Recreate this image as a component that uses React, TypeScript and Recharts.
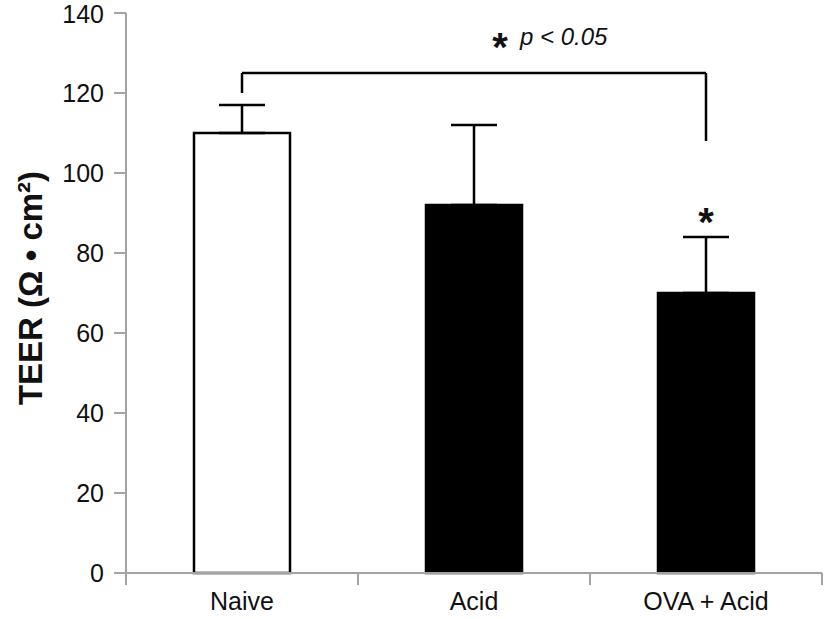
import { BarChart, Bar, XAxis, YAxis, ErrorBar, Cell, LabelList, ReferenceLine, ReferenceDot, Label } from 'recharts';

const groups = ['Naive', 'Acid', 'OVA + Acid'];
const teer = [110, 92, 70];
const sem = [7, 20, 14];
const marks = ['', '', '*'];
const fills = ['#ffffff', '#000000', '#000000'];
const yTicks = [0, 20, 40, 60, 80, 100, 120, 140];

// significance bracket (in TEER units)
const bracketEnds = ['Naive', 'OVA + Acid'];
const bracketY = [125, 120, 108]; // top, left foot, right foot
const noteAt = { x: 'Acid', y: 132 };

const W = 825;
const H = 619;
const M = { top: 13, right: 3, left: 0, bottom: 0 };
const Y_W = 126;
const BAND = (W - M.left - M.right - Y_W) / groups.length;
const X_TICK = 12;
const X_GAP = 7;

const FONT = '"Liberation Sans", Arial, Helvetica, sans-serif';
const AXIS = '#a3a3a3';
const INK = '#111';

const data = groups.map((g, i) => ({
  group: g,
  teer: teer[i],
  err: [0, sem[i]],
  mark: marks[i],
}));

const XTick = (props: any) => {
  const { x, y, payload, index, visibleTicksCount } = props;
  const axisY = y - X_TICK - X_GAP;
  const last = index === visibleTicksCount - 1;
  return (
    <g>
      <line x1={x - BAND / 2} x2={x - BAND / 2} y1={axisY} y2={axisY + X_TICK} stroke={AXIS} strokeWidth={2} />
      {last && <line x1={x + BAND / 2} x2={x + BAND / 2} y1={axisY} y2={axisY + X_TICK} stroke={AXIS} strokeWidth={2} />}
      <text x={x} y={y} dy="0.71em" textAnchor="middle" fontSize={25} fill={INK} fontFamily={FONT}>
        {payload.value}
      </text>
    </g>
  );
};

const StarLabel = (props: any) => {
  const { x, y, width, height, index } = props;
  const m = marks[index];
  if (!m) return null;
  const top = y - (sem[index] * height) / teer[index];
  return (
    <text x={x + width / 2} y={top - 1} textAnchor="middle" fontSize={40} fontWeight="bold" fill={INK} fontFamily={FONT}>
      {m}
    </text>
  );
};

const Note = (props: any) => {
  const vb = props.viewBox || {};
  const cx = vb.x + (vb.width || 0) / 2;
  const cy = vb.y + (vb.height || 0) / 2;
  return (
    <g fontFamily={FONT} fill={INK}>
      <text x={cx + 26} y={cy + 16} textAnchor="middle" fontSize={40} fontWeight="bold">*</text>
      <text x={cx + 46} y={cy} fontSize={24} fontStyle="italic">p &lt; 0.05</text>
    </g>
  );
};

const YTitle = (props: any) => {
  const vb = props.viewBox || {};
  const cy = vb.y + vb.height / 2 - 5;
  return (
    <text x={42} y={cy} transform={`rotate(-90, 42, ${cy})`} textAnchor="middle" fontSize={33} fontWeight="bold" fill={INK} fontFamily={FONT}>
      TEER (Ω • cm²)
    </text>
  );
};

export default function App() {
  return (
    <div style={{ width: W, height: H, background: '#fff' }}>
      <style>{'body{margin:0}'}</style>
      <BarChart width={W} height={H} data={data} margin={M} barSize={96}>
        <XAxis
          dataKey="group"
          height={46}
          axisLine={{ stroke: AXIS, strokeWidth: 2 }}
          tickLine={false}
          tickSize={X_TICK}
          tickMargin={X_GAP}
          tick={<XTick />}
          interval={0}
        />
        <YAxis
          width={Y_W}
          domain={[0, 140]}
          ticks={yTicks}
          axisLine={{ stroke: AXIS, strokeWidth: 2 }}
          tickLine={{ stroke: AXIS, strokeWidth: 2 }}
          tickSize={12}
          tickMargin={10}
          tick={{ fontSize: 25, fill: INK, fontFamily: FONT }}
        >
          <Label content={<YTitle />} />
        </YAxis>
        <Bar dataKey="teer" stroke="#000" strokeWidth={2.5} isAnimationActive={false}>
          {data.map((d, i) => (
            <Cell key={d.group} fill={fills[i]} />
          ))}
          <ErrorBar dataKey="err" width={23} stroke="#000" strokeWidth={2.5} direction="y" />
          <LabelList dataKey="mark" content={<StarLabel />} />
        </Bar>
        <ReferenceLine
          segment={[{ x: bracketEnds[0], y: bracketY[0] }, { x: bracketEnds[1], y: bracketY[0] }]}
          stroke="#000"
          strokeWidth={2.5}
        />
        <ReferenceLine
          segment={[{ x: bracketEnds[0], y: bracketY[1] }, { x: bracketEnds[0], y: bracketY[0] }]}
          stroke="#000"
          strokeWidth={2.5}
        />
        <ReferenceLine
          segment={[{ x: bracketEnds[1], y: bracketY[2] }, { x: bracketEnds[1], y: bracketY[0] }]}
          stroke="#000"
          strokeWidth={2.5}
        />
        <ReferenceDot x={noteAt.x} y={noteAt.y} r={0} fill="none" stroke="none" label={<Note />} />
      </BarChart>
    </div>
  );
}
